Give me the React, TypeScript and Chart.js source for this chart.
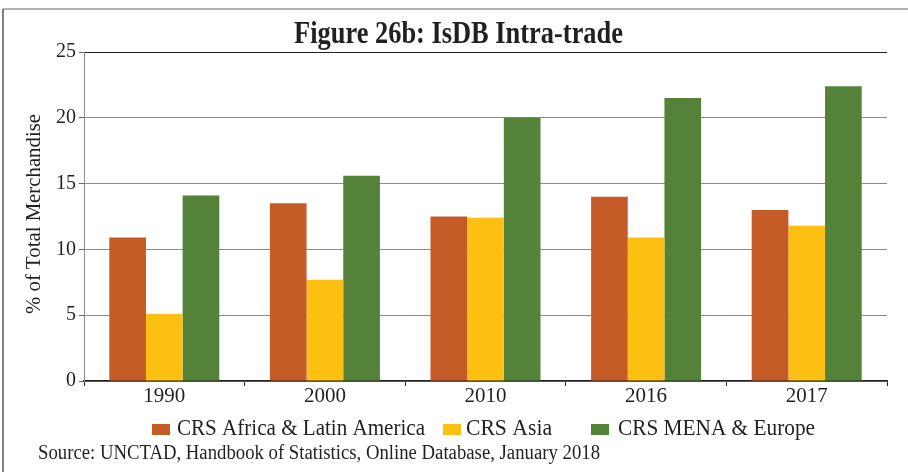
import React, { useEffect, useRef } from 'react';
import { Chart, registerables } from 'chart.js';

Chart.register(...registerables);

// ---- data ----
const categories = ['1990', '2000', '2010', '2016', '2017'];
const africaLatinAmerica = [10.9, 13.5, 12.5, 14.0, 13.0];
const asia = [5.1, 7.7, 12.4, 10.9, 11.8];
const menaEurope = [14.1, 15.6, 20.0, 21.5, 22.4];
const seriesNames = ['CRS Africa & Latin America', 'CRS Asia', 'CRS MENA & Europe'];
const yTickValues = [0, 5, 10, 15, 20, 25];
const titleText = 'Figure 26b: IsDB Intra-trade';
const yTitleText = '% of Total Merchandise';
const sourceText = 'Source: UNCTAD, Handbook of Statistics, Online Database, January 2018';

// ---- style ----
const seriesColors = ['#C55C27', '#FCBF12', '#548238'];
const SERIF = '"Liberation Serif", "Times New Roman", serif';
const TEXT = '#231f20';

// ---- layout of decorations (text is slightly condensed in the original) ----
const LAYOUT = {
  title: { x: 458.5, y: 43, size: 31, width: 329 },
  yTitle: { x: 40, y: 214, size: 22, width: 200 },
  legend: {
    boxX: [152, 443, 591],
    boxY: 424,
    boxW: 18,
    boxH: 11,
    textX: [177, 466, 618],
    textW: [248, 86, 197],
    baseline: 435,
    size: 23,
  },
  source: { x: 38, y: 458.5, size: 20, width: 562 },
};

function drawFitted(
  ctx: CanvasRenderingContext2D,
  text: string,
  x: number,
  y: number,
  font: string,
  align: CanvasTextAlign,
  width: number,
  rot = 0
) {
  ctx.save();
  ctx.font = font;
  const w = ctx.measureText(text).width || 1;
  ctx.translate(x, y);
  if (rot) ctx.rotate(rot);
  ctx.scale(width / w, 1);
  ctx.textAlign = align;
  ctx.textBaseline = 'alphabetic';
  ctx.fillStyle = TEXT;
  ctx.fillText(text, 0, 0);
  ctx.restore();
}

const decorPlugin = {
  id: 'decor',
  afterDraw(chart: any) {
    const ctx: CanvasRenderingContext2D = chart.ctx;
    // frame
    ctx.save();
    ctx.strokeStyle = '#9a9a9a';
    ctx.lineWidth = 1.5;
    ctx.beginPath();
    ctx.moveTo(3, 9);
    ctx.lineTo(908, 9);
    ctx.stroke();
    ctx.strokeStyle = '#555';
    ctx.beginPath();
    ctx.moveTo(3, 9);
    ctx.lineTo(3, 472);
    ctx.stroke();
    ctx.restore();

    const t = LAYOUT.title;
    drawFitted(ctx, titleText, t.x, t.y, `bold ${t.size}px ${SERIF}`, 'center', t.width);

    const yt = LAYOUT.yTitle;
    drawFitted(ctx, yTitleText, yt.x, yt.y, `${yt.size}px ${SERIF}`, 'center', yt.width, -Math.PI / 2);

    const lg = LAYOUT.legend;
    chart.data.datasets.forEach((ds: any, i: number) => {
      ctx.save();
      ctx.fillStyle = ds.backgroundColor;
      ctx.fillRect(lg.boxX[i], lg.boxY, lg.boxW, lg.boxH);
      ctx.restore();
      drawFitted(ctx, ds.label, lg.textX[i], lg.baseline, `${lg.size}px ${SERIF}`, 'left', lg.textW[i]);
    });

    const s = LAYOUT.source;
    drawFitted(ctx, sourceText, s.x, s.y, `${s.size}px ${SERIF}`, 'left', s.width);
  },
};

export default function App() {
  const canvasRef = useRef<HTMLCanvasElement | null>(null);

  useEffect(() => {
    document.body.style.margin = '0';
    const canvas = canvasRef.current;
    if (!canvas) return;
    const values = [africaLatinAmerica, asia, menaEurope];
    const chart = new Chart(canvas, {
      type: 'bar',
      data: {
        labels: categories,
        datasets: values.map((v, i) => ({
          label: seriesNames[i],
          data: v,
          backgroundColor: seriesColors[i],
          borderWidth: 0,
          barPercentage: 1,
          categoryPercentage: 0.685,
        })),
      },
      options: {
        responsive: false,
        animation: false,
        devicePixelRatio: 1,
        layout: { padding: { top: 52, left: 4, right: 21, bottom: 0 } },
        plugins: {
          legend: { display: false },
          title: { display: false },
          tooltip: { enabled: false },
        },
        scales: {
          x: {
            afterFit: (scale: any) => {
              scale.height = 91;
            },
            grid: {
              display: true,
              drawOnChartArea: false,
              drawTicks: true,
              tickLength: 5,
              color: '#222',
              offset: true,
            },
            border: { display: true, color: '#222', width: 1.5 },
            ticks: {
              color: TEXT,
              font: { family: SERIF, size: 21 },
              padding: -2,
              maxRotation: 0,
            },
          },
          y: {
            min: 0,
            max: 25,
            afterFit: (scale: any) => {
              scale.width = 80;
            },
            afterBuildTicks: (scale: any) => {
              scale.ticks = yTickValues.map((v) => ({ value: v }));
            },
            grid: {
              color: (c: any) => (c.tick && c.tick.value === 25 ? '#222' : '#8a8a8a'),
              tickColor: '#666',
              tickLength: 5,
              drawTicks: true,
            },
            border: { display: true, color: '#8a8a8a', width: 1 },
            ticks: {
              color: TEXT,
              font: { family: SERIF, size: 20 },
              padding: 3,
            },
          },
        },
      },
      plugins: [decorPlugin],
    });
    return () => chart.destroy();
  }, []);

  return (
    <div style={{ width: 908, height: 472, background: '#fff' }}>
      <canvas ref={canvasRef} width={908} height={472} style={{ display: 'block' }} />
    </div>
  );
}
